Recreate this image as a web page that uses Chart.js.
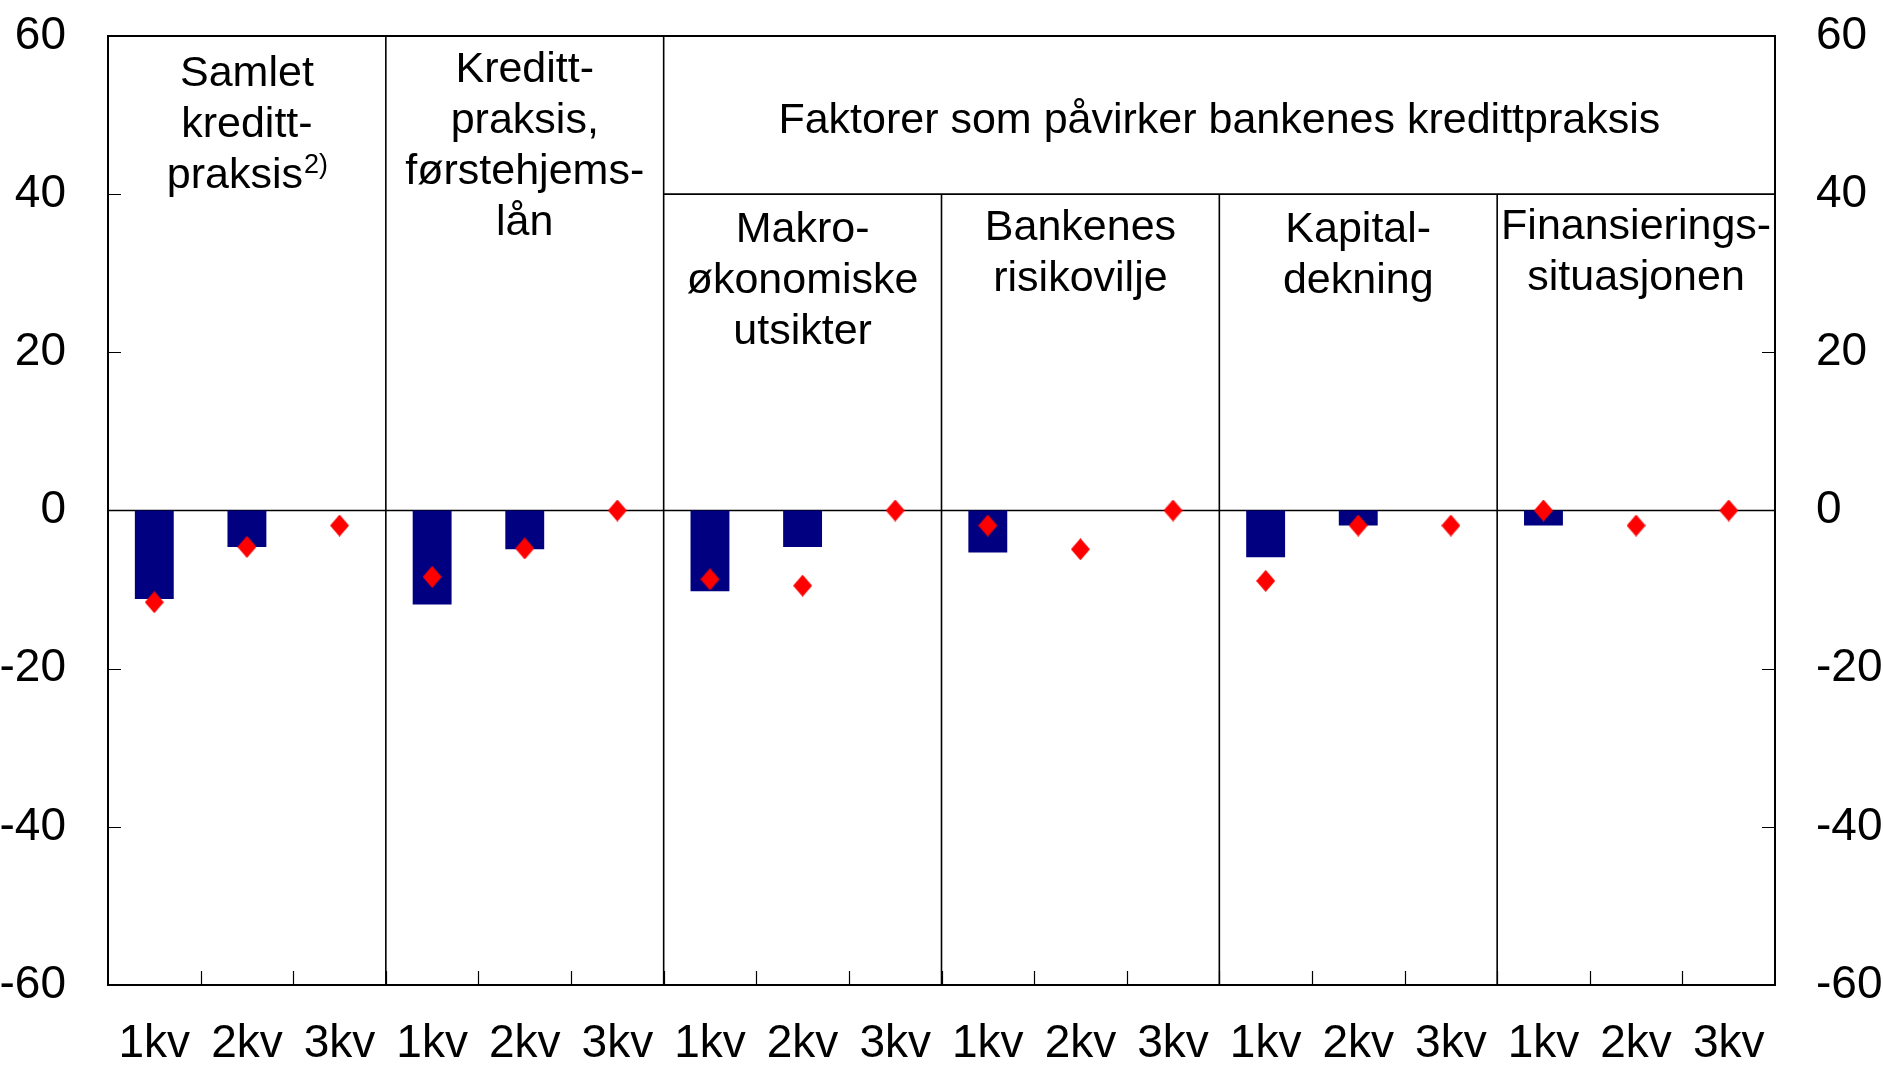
<!DOCTYPE html>
<html><head><meta charset="utf-8">
<script src="https://cdn.jsdelivr.net/npm/chart.js@4"></script>
<style>html,body{margin:0;padding:0;background:#fff;overflow:hidden}</style>
</head><body>
<canvas id="c" width="1883" height="1067" style="width:1883px;height:1067px;display:block"></canvas>
<script>
// ---- data ----
const categories = ['1kv','2kv','3kv','1kv','2kv','3kv','1kv','2kv','3kv','1kv','2kv','3kv','1kv','2kv','3kv','1kv','2kv','3kv'];
const barValues = [-11.2, -4.6, null, -11.9, -4.9, null, -10.2, -4.6, null, -5.3, null, null, -5.9, -1.9, null, -1.9, null, null];
const diamondValues = [-11.6, -4.6, -1.9, -8.4, -4.8, 0, -8.7, -9.5, 0, -1.9, -4.9, 0, -8.9, -1.9, -1.9, 0, -1.9, 0];
const yMin = -60, yMax = 60, yStep = 20;
const topHeaderTitle = 'Faktorer som påvirker bankenes kredittpraksis';
const groupTitles = [
  ['Samlet', 'kreditt-', 'praksis'],
  ['Kreditt-', 'praksis,', 'førstehjems-', 'lån'],
  ['Makro-', 'økonomiske', 'utsikter'],
  ['Bankenes', 'risikovilje'],
  ['Kapital-', 'dekning'],
  ['Finansierings-', 'situasjonen']
];
const groupSuperscript = ['2)', '', '', '', '', ''];
const headerBoundaryValue = 40;

// ---- styles ----
const FONT = '"Liberation Sans", Arial, sans-serif';
const tickFontSize = 46;
const titleFontSize = 43;
const lineGap = 51;

function makeDiamond(w, h, color) {
  const cv = document.createElement('canvas');
  cv.width = w; cv.height = h;
  const g = cv.getContext('2d');
  g.fillStyle = color;
  g.beginPath();
  g.moveTo(w / 2, 0); g.lineTo(w, h / 2); g.lineTo(w / 2, h); g.lineTo(0, h / 2);
  g.closePath(); g.fill();
  return cv;
}
const diamond = makeDiamond(19, 22, '#ff0000');

const framePlugin = {
  id: 'frame',
  beforeDatasetsDraw(chart) {
    const ctx = chart.ctx, a = chart.chartArea;
    const x = chart.scales.x, y = chart.scales.y;
    const bound = i => (x.getPixelForValue(i - 1) + x.getPixelForValue(i)) / 2;
    ctx.save();
    ctx.strokeStyle = '#000';
    // zero line
    ctx.lineWidth = 1.6;
    const y0 = y.getPixelForValue(0);
    ctx.beginPath(); ctx.moveTo(a.left, y0); ctx.lineTo(a.right, y0); ctx.stroke();
    // inward y ticks
    ctx.lineWidth = 1.2;
    for (let v = yMin + yStep; v < yMax; v += yStep) {
      if (v === 0) continue;
      const py = Math.round(y.getPixelForValue(v)) + 0.5;
      ctx.beginPath();
      ctx.moveTo(a.left, py); ctx.lineTo(a.left + 13, py);
      ctx.moveTo(a.right, py); ctx.lineTo(a.right - 13, py);
      ctx.stroke();
    }
    // inward x ticks at category boundaries
    for (let i = 1; i < categories.length; i++) {
      const px = Math.round(bound(i)) + 0.5;
      ctx.beginPath(); ctx.moveTo(px, a.bottom); ctx.lineTo(px, a.bottom - 14); ctx.stroke();
    }
    // group dividers
    ctx.lineWidth = 1.6;
    const y40 = y.getPixelForValue(headerBoundaryValue);
    const nGroups = groupTitles.length;
    for (let g = 1; g < nGroups; g++) {
      const px = bound(g * 3);
      ctx.beginPath();
      ctx.moveTo(px, g <= 2 ? a.top : y40);
      ctx.lineTo(px, a.bottom);
      ctx.stroke();
    }
    // horizontal line under "Faktorer ..." header
    ctx.beginPath(); ctx.moveTo(bound(6), y40); ctx.lineTo(a.right, y40); ctx.stroke();
    // frame
    ctx.lineWidth = 2;
    ctx.strokeRect(a.left, a.top, a.right - a.left, a.bottom - a.top);

    // titles
    ctx.fillStyle = '#000';
    ctx.textAlign = 'center';
    ctx.textBaseline = 'middle';
    ctx.font = titleFontSize + 'px ' + FONT;
    const firstLineY = [a.top + 38, a.top + 34, y40 + 36, y40 + 34, y40 + 36, y40 + 33];
    groupTitles.forEach((lines, g) => {
      const cx = (bound(g * 3) + bound(g * 3 + 3)) / 2;
      const cxReal = g === 0 ? (a.left + bound(3)) / 2 : (g === nGroups - 1 ? (bound(g * 3) + a.right) / 2 : cx);
      lines.forEach((t, k) => {
        const ty = firstLineY[g] + k * lineGap;
        if (k === lines.length - 1 && groupSuperscript[g]) {
          ctx.font = titleFontSize + 'px ' + FONT;
          const w1 = ctx.measureText(t).width;
          ctx.font = '27px ' + FONT;
          const w2 = ctx.measureText(groupSuperscript[g]).width;
          const sx = cxReal - (w1 + w2) / 2;
          ctx.textAlign = 'left';
          ctx.font = titleFontSize + 'px ' + FONT;
          ctx.fillText(t, sx, ty);
          ctx.font = '27px ' + FONT;
          ctx.fillText(groupSuperscript[g], sx + w1 + 1, ty - 10);
          ctx.textAlign = 'center';
          ctx.font = titleFontSize + 'px ' + FONT;
        } else {
          ctx.fillText(t, cxReal, ty);
        }
      });
    });
    ctx.fillText(topHeaderTitle, (bound(6) + a.right) / 2, a.top + 85);
    ctx.restore();
  }
};

function fitY(s) { s.width = 108; s.paddingTop = 36; s.paddingBottom = 0; }

new Chart(document.getElementById('c'), {
  data: {
    labels: categories,
    datasets: [
      { type: 'line', data: diamondValues, showLine: false, pointStyle: diamond,
        pointRadius: 10, pointHoverRadius: 10, order: 0, borderColor: '#ff0000', backgroundColor: '#ff0000' },
      { type: 'bar', data: barValues, backgroundColor: '#000080', borderWidth: 0,
        barPercentage: 0.42, categoryPercentage: 1, order: 1 }
    ]
  },
  options: {
    responsive: false,
    animation: false,
    events: [],
    layout: { padding: 0 },
    plugins: { legend: { display: false }, tooltip: { enabled: false } },
    scales: {
      x: {
        type: 'category',
        offset: true,
        grid: { display: false, drawTicks: false },
        border: { display: false },
        ticks: { color: '#000', font: { family: FONT, size: tickFontSize }, padding: 32, maxRotation: 0, autoSkip: false },
        afterFit(s) { s.height = 82; s.paddingLeft = 0; s.paddingRight = 0; }
      },
      y: {
        position: 'left',
        min: yMin, max: yMax,
        grid: { display: false, drawTicks: false },
        border: { display: false },
        ticks: { stepSize: yStep, color: '#000', font: { family: FONT, size: tickFontSize }, padding: 42 },
        afterFit: fitY
      },
      y2: {
        position: 'right',
        min: yMin, max: yMax,
        grid: { display: false, drawTicks: false },
        border: { display: false },
        ticks: { stepSize: yStep, color: '#000', font: { family: FONT, size: tickFontSize }, padding: 41 },
        afterFit: fitY
      }
    }
  },
  plugins: [framePlugin]
});
</script>
</body></html>
